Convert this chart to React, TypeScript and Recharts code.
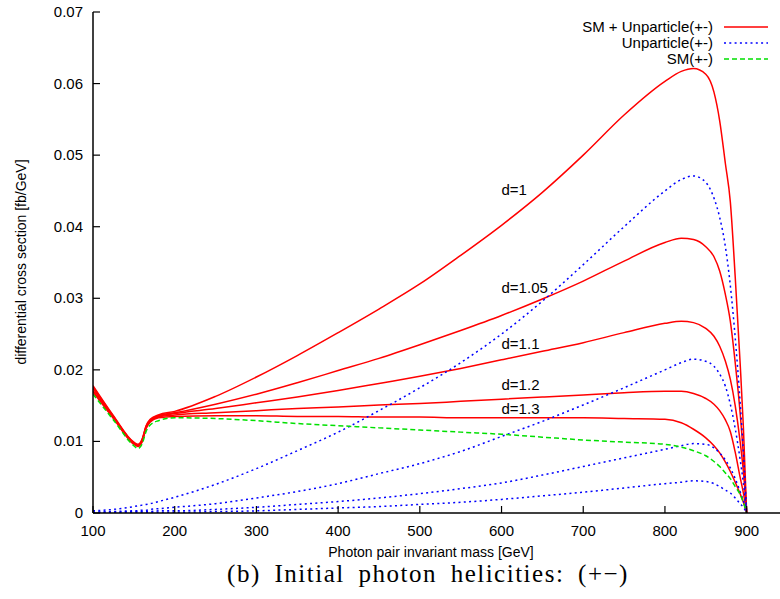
import { LineChart, Line, XAxis, YAxis, ReferenceDot } from 'recharts';

// photon pair invariant mass [GeV]
const MASS = [100, 125, 150, 155, 160, 165, 170, 180, 200, 250, 300, 350, 400, 450, 500, 550, 600, 650, 700, 750, 800, 820, 835, 850, 860, 867, 874, 880, 886, 892, 896, 900];

// SM + Unparticle(+-), one per scaling dimension d
const SMU_D1 = [0.0178, 0.0136, 0.0099, 0.0096, 0.0103, 0.0122, 0.0131, 0.0137, 0.0142, 0.0163, 0.019, 0.022, 0.0252, 0.0285, 0.032, 0.036, 0.0402, 0.0448, 0.05, 0.0556, 0.0603, 0.0617, 0.0621, 0.0613, 0.0588, 0.0548, 0.0488, 0.0435, 0.033, 0.021, 0.012, 0];
const SMU_D105 = [0.0176, 0.0135, 0.0098, 0.0095, 0.0102, 0.0121, 0.013, 0.0136, 0.014, 0.0152, 0.0166, 0.0182, 0.0199, 0.0216, 0.0235, 0.0255, 0.0276, 0.0299, 0.0324, 0.0352, 0.0378, 0.0384, 0.0382, 0.0372, 0.0358, 0.0338, 0.0305, 0.0268, 0.021, 0.014, 0.008, 0];
const SMU_D11 = [0.0174, 0.0134, 0.0098, 0.0095, 0.0101, 0.012, 0.0129, 0.0135, 0.0139, 0.0146, 0.0154, 0.0162, 0.0171, 0.0181, 0.0191, 0.0202, 0.0214, 0.0226, 0.0238, 0.0252, 0.0265, 0.0268, 0.0266, 0.0258, 0.0247, 0.0233, 0.0212, 0.0187, 0.015, 0.01, 0.0058, 0];
const SMU_D12 = [0.0171, 0.0133, 0.0097, 0.0094, 0.01, 0.0119, 0.0128, 0.0134, 0.0137, 0.014, 0.0143, 0.0146, 0.0148, 0.0151, 0.0153, 0.0156, 0.0159, 0.0162, 0.0165, 0.0168, 0.017, 0.017, 0.0167, 0.016, 0.0152, 0.0143, 0.013, 0.0114, 0.0085, 0.005, 0.0028, 0];
const SMU_D13 = [0.0169, 0.0132, 0.0096, 0.0093, 0.0099, 0.0118, 0.0127, 0.0133, 0.0135, 0.0136, 0.0136, 0.0135, 0.0135, 0.0134, 0.0134, 0.0133, 0.0133, 0.0133, 0.0133, 0.0132, 0.0131, 0.0126, 0.0117, 0.0105, 0.0094, 0.0084, 0.0071, 0.0058, 0.0043, 0.0027, 0.0015, 0];

// Unparticle(+-) alone
const U_D1 = [0.0003, 0.0005, 0.0009, 0.001, 0.0011, 0.0012, 0.0013, 0.0016, 0.0022, 0.004, 0.0062, 0.0087, 0.0113, 0.0143, 0.0175, 0.021, 0.025, 0.0296, 0.0347, 0.04, 0.045, 0.0466, 0.0471, 0.0462, 0.044, 0.0413, 0.0372, 0.0318, 0.0245, 0.0155, 0.0085, 0];
const U_D105 = [0.0001, 0.0002, 0.0003, 0.0003, 0.0004, 0.0004, 0.0005, 0.0006, 0.0008, 0.0013, 0.0021, 0.003, 0.0041, 0.0055, 0.0069, 0.0086, 0.0107, 0.0128, 0.0151, 0.0175, 0.02, 0.021, 0.0215, 0.0212, 0.0205, 0.0194, 0.0177, 0.0152, 0.0118, 0.0075, 0.0042, 0];
const U_D11 = [0.0001, 0.0001, 0.0002, 0.0002, 0.0002, 0.0002, 0.0002, 0.0003, 0.0003, 0.0005, 0.0008, 0.0012, 0.0016, 0.0021, 0.0027, 0.0034, 0.0042, 0.0053, 0.0065, 0.0077, 0.0089, 0.0094, 0.0097, 0.0096, 0.0091, 0.0084, 0.0074, 0.0063, 0.0048, 0.003, 0.0017, 0];
const U_D12 = [0, 0, 0.0001, 0.0001, 0.0001, 0.0001, 0.0001, 0.0001, 0.0001, 0.0002, 0.0003, 0.0005, 0.0007, 0.0009, 0.0012, 0.0015, 0.0019, 0.0024, 0.0029, 0.0035, 0.0041, 0.0043, 0.0045, 0.0044, 0.0041, 0.0037, 0.0032, 0.0028, 0.0021, 0.0013, 0.0008, 0];

// SM(+-)
const SM = [0.0166, 0.013, 0.0094, 0.009, 0.0096, 0.0114, 0.0123, 0.0129, 0.0133, 0.0132, 0.0129, 0.0125, 0.0122, 0.0119, 0.0116, 0.0113, 0.011, 0.0106, 0.0102, 0.0099, 0.0096, 0.0092, 0.0087, 0.008, 0.0072, 0.0065, 0.0056, 0.0048, 0.0037, 0.0026, 0.0015, 0];

const X_TICKS = [100, 200, 300, 400, 500, 600, 700, 800, 900];
const Y_TICKS = [0, 0.01, 0.02, 0.03, 0.04, 0.05, 0.06, 0.07];

// curve annotations
const D_LABELS = ['d=1', 'd=1.05', 'd=1.1', 'd=1.2', 'd=1.3'];
const D_LABEL_MASS = [600, 600, 600, 600, 600];
const D_LABEL_VALUE = [0.0451, 0.0314, 0.0236, 0.0179, 0.0145];

const SERIES = [
    { key: 'smu1', values: SMU_D1, color: '#ff0000', dash: undefined },
    { key: 'smu105', values: SMU_D105, color: '#ff0000', dash: undefined },
    { key: 'smu11', values: SMU_D11, color: '#ff0000', dash: undefined },
    { key: 'smu12', values: SMU_D12, color: '#ff0000', dash: undefined },
    { key: 'smu13', values: SMU_D13, color: '#ff0000', dash: undefined },
    { key: 'u1', values: U_D1, color: '#0000ff', dash: '2 3.3' },
    { key: 'u105', values: U_D105, color: '#0000ff', dash: '2 3.3' },
    { key: 'u11', values: U_D11, color: '#0000ff', dash: '2 3.3' },
    { key: 'u12', values: U_D12, color: '#0000ff', dash: '2 3.3' },
    { key: 'sm', values: SM, color: '#00e000', dash: '5 3' },
];

const LEGEND = [
    { label: 'SM + Unparticle(+-)', color: '#ff0000', dash: undefined },
    { label: 'Unparticle(+-)', color: '#0000ff', dash: '2 3.3' },
    { label: 'SM(+-)', color: '#00e000', dash: '5 3' },
];

const data = MASS.map((m, i) => {
    const row: Record<string, number> = { mass: m };
    SERIES.forEach((s) => {
        row[s.key] = s.values[i];
    });
    return row;
});

const FONT = '"Liberation Sans", Arial, sans-serif';
const TICK = 7;

const BottomTick = ({ x, y, payload }: any) => (
    <g>
        <line x1={x} y1={y} x2={x} y2={y - TICK} stroke="#000" strokeWidth={1.2} />
        <text x={x} y={y + 23} textAnchor="middle" fontSize={15} fontFamily={FONT} fill="#000">
            {payload.value}
        </text>
    </g>
);

const TopTick = ({ x, y }: any) => (
    <line x1={x} y1={y} x2={x} y2={y + TICK} stroke="#000" strokeWidth={1.2} />
);

const LeftTick = ({ x, y, payload }: any) => (
    <g>
        <line x1={x} y1={y} x2={x + TICK} y2={y} stroke="#000" strokeWidth={1.2} />
        <text x={x - 10} y={y + 5} textAnchor="end" fontSize={15} fontFamily={FONT} fill="#000">
            {payload.value === 0 ? '0' : payload.value.toFixed(2)}
        </text>
    </g>
);

export default function App() {
    return (
        <div style={{ position: 'absolute', left: 0, top: 0, width: 780, height: 599, overflow: 'hidden', background: '#fff', fontFamily: FONT }}>
            <LineChart width={800} height={599} data={data} margin={{ top: 12, right: 12.5, bottom: 56, left: 0 }}>
                <XAxis
                    dataKey="mass"
                    type="number"
                    domain={[100, 950]}
                    ticks={X_TICKS}
                    height={30}
                    tickLine={false}
                    tickSize={0}
                    tickMargin={0}
                    tick={<BottomTick />}
                    axisLine={{ stroke: '#000', strokeWidth: 1.5 }}
                    allowDataOverflow
                />
                <XAxis
                    xAxisId="top"
                    orientation="top"
                    dataKey="mass"
                    type="number"
                    domain={[100, 950]}
                    ticks={X_TICKS}
                    height={0}
                    tickLine={false}
                    tickSize={0}
                    tickMargin={0}
                    tick={<TopTick />}
                    axisLine={{ stroke: '#000', strokeWidth: 1.5 }}
                    allowDataOverflow
                />
                <YAxis
                    type="number"
                    domain={[0, 0.07]}
                    ticks={Y_TICKS}
                    width={93}
                    tickLine={false}
                    tickSize={0}
                    tickMargin={0}
                    tick={<LeftTick />}
                    axisLine={{ stroke: '#000', strokeWidth: 1.5 }}
                    allowDataOverflow
                />
                {SERIES.map((s) => (
                    <Line
                        key={s.key}
                        dataKey={s.key}
                        type="monotone"
                        stroke={s.color}
                        strokeWidth={1.5}
                        strokeDasharray={s.dash}
                        dot={false}
                        activeDot={false}
                        isAnimationActive={false}
                    />
                ))}
                {D_LABELS.map((txt, i) => (
                    <ReferenceDot
                        key={txt}
                        x={D_LABEL_MASS[i]}
                        y={D_LABEL_VALUE[i]}
                        r={0}
                        shape={(p: any) => (
                            <text x={p.cx} y={p.cy + 5} fontSize={15} fontFamily={FONT} fill="#000">
                                {txt}
                            </text>
                        )}
                    />
                ))}
            </LineChart>

            {/* Legend */}
            <div style={{ position: 'absolute', left: 440, top: 19, width: 340 }}>
                {LEGEND.map((l) => (
                    <div key={l.label} style={{ display: 'flex', alignItems: 'center', height: 16 }}>
                        <span style={{ width: 273, textAlign: 'right', fontSize: 15, lineHeight: '16px', color: '#000' }}>{l.label}</span>
                        <svg width={50} height={16} style={{ marginLeft: 10 }}>
                            <line x1={1} y1={8} x2={45} y2={8} stroke={l.color} strokeWidth={1.5} strokeDasharray={l.dash} />
                        </svg>
                    </div>
                ))}
            </div>

            <div style={{ position: 'absolute', left: 21, top: 262, transform: 'translate(-50%, -50%) rotate(-90deg)', whiteSpace: 'nowrap', fontSize: 14, color: '#000' }}>
                differential cross section [fb/GeV]
            </div>
            <div style={{ position: 'absolute', left: 431, top: 552, transform: 'translate(-50%, -50%)', whiteSpace: 'nowrap', fontSize: 14, color: '#000' }}>
                Photon pair invariant mass [GeV]
            </div>
            <div style={{ position: 'absolute', left: 428, top: 574, transform: 'translate(-50%, -50%)', whiteSpace: 'nowrap', fontSize: 25, letterSpacing: 1.5, wordSpacing: 6, color: '#000', fontFamily: '"Liberation Serif", "DejaVu Serif", serif' }}>
                (b) Initial photon helicities: (+−)
            </div>
        </div>
    );
}
